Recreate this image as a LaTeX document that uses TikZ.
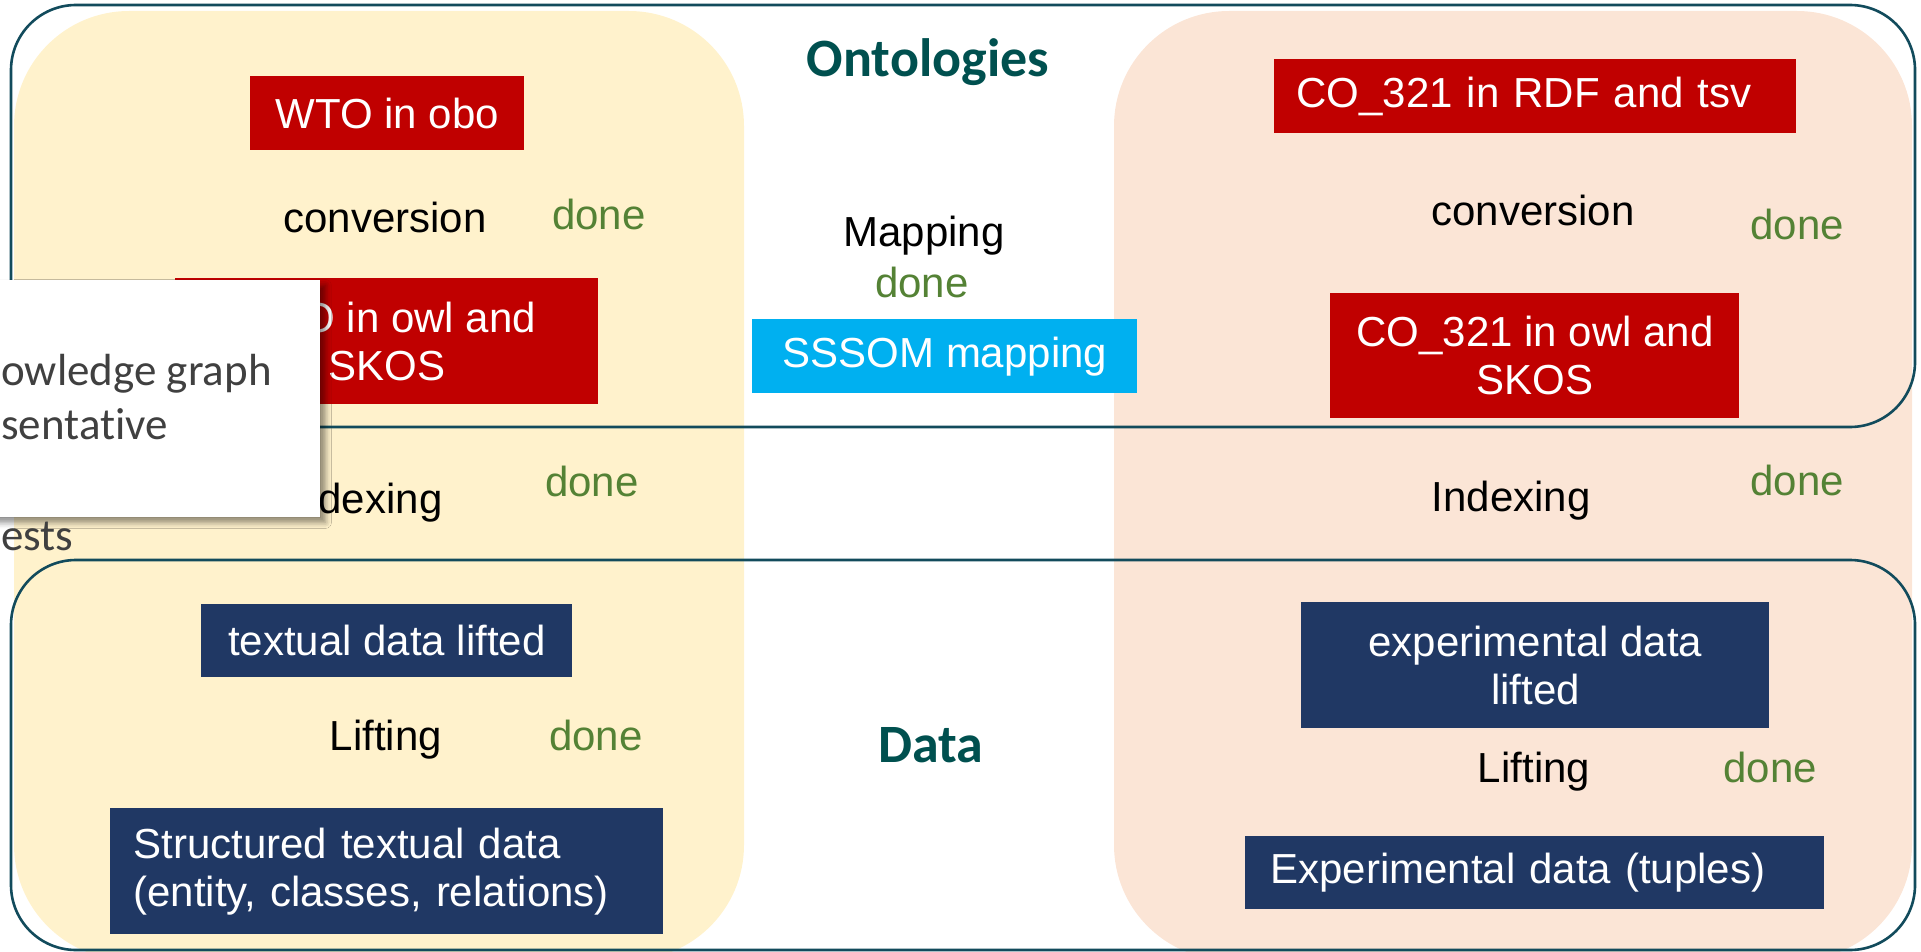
\documentclass[tikz,border=0pt]{standalone}
\usepackage{fontspec}
\setmainfont{Liberation Sans}
\newfontfamily\calibri[Ligatures=NoCommon]{Carlito}
\usetikzlibrary{shadows.blur}
\definecolor{panelyellow}{HTML}{FFF2CC}
\definecolor{panelpeach}{HTML}{FBE5D6}
\definecolor{ontred}{HTML}{C00000}
\definecolor{datanavy}{HTML}{203864}
\definecolor{mapcyan}{HTML}{00B0F0}
\definecolor{donegreen}{HTML}{548235}
\definecolor{titleteal}{HTML}{00504F}
\definecolor{framedark}{HTML}{124B5C}
\definecolor{notegrey}{HTML}{404040}
\begin{document}
\begin{tikzpicture}[x=0.5pt,y=0.5pt]
        \tikzstyle{every node}+=[inner sep=0pt, font=\fontsize{21}{24}\selectfont]
        \tikzstyle{redbox}=[fill=ontred, text=white, anchor=north west, align=center]
        \tikzstyle{navybox}=[fill=datanavy, text=white, anchor=north west, align=center]
        \tikzstyle{lbl}=[anchor=base]
        \tikzstyle{donelbl}=[anchor=base, text=donegreen]
        \tikzstyle{title}=[anchor=base, text=titleteal, font=\calibri\bfseries\fontsize{27}{30}\selectfont]
        \tikzstyle{frame}=[draw=framedark, line width=1.3pt, rounded corners=32.5pt]
        \tikzstyle{note}=[anchor=base west, text=notegrey, font=\calibri\fontsize{22.5}{27}\selectfont]
        \useasboundingbox (0,0) rectangle (1921,-952);
        % panels and frames
        \fill [panelyellow, rounded corners=57.5pt] (14,-11) rectangle (744,-960);
        \fill [panelpeach, rounded corners=57.5pt] (1114,-11) rectangle (1912,-960);
        \draw [frame] (11,-5) rectangle (1915,-427);
        \draw [frame] (11,-560) rectangle (1915,-950);
        % titles
        \draw (928,-77) node [title] (onttitle) {Ontologies};
        \draw (931,-762) node [title] (datatitle) {Data};
        % left column
        \draw (250,-76) node [redbox, minimum width=137pt, minimum height=37pt] (wtoobo) {WTO in obo};
        \draw (385,-233) node [lbl] (conv1) {conversion};
        \draw (599,-230) node [donelbl] (done1) {done};
        \draw (175,-278) node [redbox, minimum width=211.5pt, minimum height=63pt] (wtoowl) {WTO in owl and\\SKOS};
        \draw (363,-513) node [lbl] (idx1) {Indexing};
        \draw (592,-496) node [donelbl] (done2) {done};
        \draw (201,-604) node [navybox, minimum width=185.5pt, minimum height=36.5pt] (txtlifted) {textual data lifted};
        \draw (386,-750) node [lbl] (lift1) {Lifting};
        \draw (596,-750) node [donelbl] (done3) {done};
        \draw (110,-808) node [navybox, align=left, text width=253.5pt, inner xsep=11.5pt, minimum height=63pt] (txtstruct) {Structured textual data\\(entity, classes, relations)};
        % middle column
        \draw (924,-247) node [lbl] (mapping) {Mapping};
        \draw (922,-298) node [donelbl] (done4) {done};
        \draw (752,-319) node [fill=mapcyan, text=white, anchor=north west, minimum width=192.5pt, minimum height=37pt] (sssom) {SSSOM mapping};
        % right column
        \draw (1274,-59) node [redbox, align=left, text width=239pt, inner xsep=11pt, minimum height=37pt] (cordf) {CO\_321 in RDF and tsv};
        \draw (1533,-226) node [lbl] (conv2) {conversion};
        \draw (1797,-240) node [donelbl] (done5) {done};
        \draw (1330,-293) node [redbox, minimum width=204.5pt, minimum height=62.5pt] (coowl) {CO\_321 in owl and\\SKOS};
        \draw (1511,-511) node [lbl] (idx2) {Indexing};
        \draw (1797,-495) node [donelbl] (done6) {done};
        \draw (1301,-602) node [navybox, minimum width=234pt, minimum height=63pt] (explifted) {experimental data\\lifted};
        \draw (1534,-782) node [lbl] (lift2) {Lifting};
        \draw (1770,-782) node [donelbl] (done7) {done};
        \draw (1245,-836) node [navybox, align=left, text width=264.5pt, inner xsep=12.5pt, minimum height=36.5pt] (exptuples) {Experimental data (tuples)};
        % note lying on top
        \draw (-20,-280) node [fill=white, anchor=north west, minimum width=170pt, minimum height=118.5pt, blur shadow={shadow xshift=2.5pt, shadow yshift=-2.5pt, shadow blur radius=3pt, shadow opacity=45}] (notebox) {};
        \draw (1,-385) node [note] (note1) {owledge graph};
        \draw (1,-439) node [note] (note2) {sentative};
        \draw (1,-550) node [note] (note3) {ests};
        \end{tikzpicture}
\end{document}
